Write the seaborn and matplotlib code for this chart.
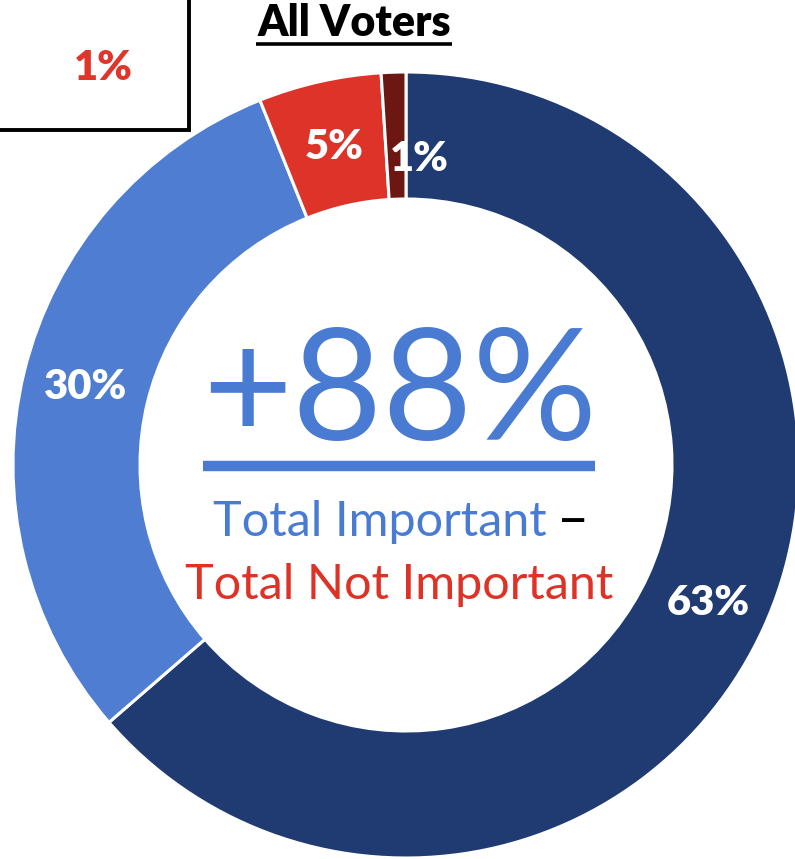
import matplotlib
matplotlib.use("Agg")
import matplotlib.pyplot as plt
import seaborn as sns
import numpy as np
from matplotlib.patches import Rectangle

# ---- data ----
categories = ["Very important", "Somewhat important", "Not very important", "Not at all important"]
values = [63, 30, 5, 1]
pct_labels = ["63%", "30%", "5%", "1%"]
colors = ["#1F3B71", "#4E7DD1", "#DD3328", "#6C1712"]
net_label = "+88%"
title = "All Voters"
side_box_label = "1%"

sns.set_theme(style="white")
plt.rcParams["font.family"] = ["Lato", "DejaVu Sans"]

W, H = 795, 859
fig = plt.figure(figsize=(W / 100, H / 100), dpi=100)
ax = fig.add_axes([0, 0, 1, 1])
ax.set_xlim(0, W)
ax.set_ylim(0, H)
ax.set_aspect("equal")
ax.axis("off")

def Y(y):
    return H - y

cx, cy = 406, Y(465)
R_out, R_in = 393, 266

wedges, _ = ax.pie(values, colors=colors, startangle=90, counterclock=False,
                   center=(cx, cy), radius=R_out, frame=True,
                   wedgeprops=dict(width=R_out - R_in, edgecolor="white", linewidth=2.2))
ax.set_xlim(0, W)
ax.set_ylim(0, H)
ax.axis("off")

# slice labels at ring middle (1% label nudged as in reference)
label_r = [0.847, 0.84, 0.83, 0.78]
label_dang = [0, 0, 0, -4.4]
for w, lab, rr, da in zip(wedges, pct_labels, label_r, label_dang):
    ang = np.deg2rad((w.theta1 + w.theta2) / 2 + da)
    ax.text(cx + rr * R_out * np.cos(ang), cy + rr * R_out * np.sin(ang), lab,
            color="white", fontsize=30, fontweight="heavy", ha="center", va="center")

fig.canvas.draw()
rend = fig.canvas.get_renderer()
inv = ax.transData.inverted()

# title with underline
t = ax.text(354, Y(23), title, fontsize=31, fontweight="heavy", ha="center", va="center", color="black")
bb = t.get_window_extent(rend)
(x0, _), (x1, _) = inv.transform([(bb.x0, bb.y0), (bb.x1, bb.y1)])
ax.plot([x0 - 1, x1 + 1], [Y(44), Y(44)], color="black", lw=2.6, solid_capstyle="butt")

# side box (cropped)
ax.add_patch(Rectangle((-20, Y(130)), 209, 160, fill=False, edgecolor="black", lw=2.8, clip_on=True))
ax.text(103, Y(68), side_box_label, fontsize=30, fontweight="heavy", color="#E0352A",
        ha="center", va="center")

# center text
blue_txt = "#4A7BD2"
red_txt = "#DF3226"
ax.text(400, Y(396), net_label, fontsize=112, color=blue_txt, ha="center", va="center")
ax.plot([203, 595], [Y(466), Y(466)], color=blue_txt, lw=7.5, solid_capstyle="butt")
ax.text(547, Y(522), "Total Important", fontsize=35, color=blue_txt, ha="right", va="center")
ax.text(557, Y(522), "–", fontsize=40, color="black", ha="left", va="center")
ax.text(399, Y(585), "Total Not Important", fontsize=35, color=red_txt, ha="center", va="center")

fig.savefig("out.png", dpi=100, facecolor="white")
